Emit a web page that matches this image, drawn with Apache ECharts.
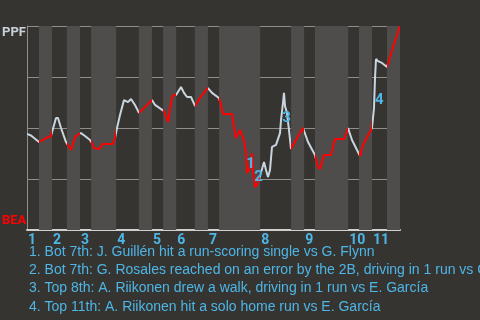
<!DOCTYPE html>
<html><head><meta charset="utf-8">
<script src="https://cdn.jsdelivr.net/npm/echarts@6/dist/echarts.min.js"></script>
<style>html,body{margin:0;padding:0;background:#363431;}#c{width:480px;height:320px;}</style>
</head><body><div id="c"></div>
<script>
// Inning labels and half-inning boundaries (in plate-appearance units)
const innings = ['1','2','3','4','5','6','7','8','9','10','11'];
const topStart = [0, 6.7, 14.2, 23.9, 33.5, 40.0, 48.5, 62.5, 74.3, 86.1, 92.5];
const botStart = [3.2, 10.7, 17.2, 30.0, 36.5, 45.0, 51.5, 70.8, 77.2, 89.0, 96.5];
const gameEnd = 100;
const teamTop = 'PPF';
const teamBottom = 'BEA';
// Win-probability trace (PPF win probability)
const eventX = [0,1.07,3.22,3.5,5.09,6.43,6.7,7.77,8.31,9.12,10.46,10.99,11.8,12.33,12.87,13.94,14.48,15.55,16.89,17.43,17.96,19.3,20.38,23.06,23.59,24.13,24.93,26.01,27.08,27.88,28.95,30.03,30.56,31.64,32.71,33.51,34.32,36.73,37.0,37.8,38.87,39.41,39.95,41.29,42.09,42.9,43.97,45.04,46.38,47.99,48.53,49.6,51.47,51.74,52.55,54.96,55.5,56.03,57.1,58.18,58.71,58.98,59.79,60.32,60.59,61.13,61.66,62.2,62.47,63.54,64.08,64.61,65.15,65.68,66.76,67.83,68.1,68.63,68.9,69.17,69.71,70.24,70.78,72.39,74.0,74.26,75.34,77.21,78.02,78.55,79.62,81.5,82.57,84.99,85.79,86.06,87.13,89.28,90.08,92.49,93.03,93.3,93.57,94.1,95.17,96.51,98.12,100];
const winProb = [0.471,0.463,0.431,0.431,0.451,0.461,0.466,0.549,0.549,0.5,0.431,0.422,0.392,0.392,0.456,0.471,0.475,0.461,0.441,0.426,0.402,0.397,0.422,0.422,0.451,0.5,0.564,0.637,0.627,0.642,0.613,0.574,0.574,0.603,0.623,0.637,0.613,0.583,0.578,0.529,0.652,0.662,0.662,0.701,0.672,0.652,0.652,0.608,0.647,0.686,0.696,0.672,0.647,0.632,0.569,0.569,0.505,0.451,0.49,0.441,0.377,0.279,0.304,0.377,0.294,0.211,0.221,0.245,0.265,0.333,0.294,0.26,0.294,0.407,0.417,0.475,0.539,0.623,0.672,0.608,0.574,0.49,0.397,0.451,0.5,0.5,0.431,0.368,0.309,0.299,0.368,0.368,0.446,0.446,0.48,0.5,0.441,0.363,0.417,0.5,0.598,0.745,0.838,0.828,0.819,0.799,0.897,1.0];
// Key-event markers
const markerLabels = ['1','2','3','4'];
const markerX = [60.05, 62.2, 69.7, 94.6];
const markerY = [0.319, 0.255, 0.544, 0.632];
const notes = [
  '1. Bot 7th: J. Guillén hit a run-scoring single vs G. Flynn',
  '2. Bot 7th: G. Rosales reached on an error by the 2B, driving in 1 run vs G. Flynn',
  '3. Top 8th: A. Riikonen drew a walk, driving in 1 run vs E. García',
  '4. Top 11th: A. Riikonen hit a solo home run vs E. García'
];

const WHITE = '#c9d5de', RED = '#ff0000', BLUE = '#4db6e6';
const FONT = '"Liberation Sans", Arial, sans-serif';
const BFONT = 'Roboto, "Liberation Sans", sans-serif';

const lineData = eventX.map((x, i) => [x, winProb[i]]);
const pieces = [];
const bands = [];
for (let i = 0; i < innings.length; i++) {
  const next = i + 1 < innings.length ? topStart[i + 1] : gameEnd;
  pieces.push({ gte: topStart[i], lt: botStart[i], color: WHITE });
  pieces.push({ gte: botStart[i], lte: next, color: RED });
  bands.push([{ xAxis: botStart[i] }, { xAxis: next }]);
}
const labelMap = {};
topStart.forEach((v, i) => { labelMap[v] = innings[i]; });

const chart = echarts.init(document.getElementById('c'), null, { renderer: 'canvas' });
chart.setOption({
  backgroundColor: '#363431',
  animation: false,
  grid: { left: 27, right: 80, top: 26, bottom: 90, containLabel: false },
  xAxis: {
    type: 'value', min: 0, max: gameEnd,
    axisLine: { show: true, lineStyle: { color: '#cfcfcf', width: 2 } },
    axisTick: { show: false },
    splitLine: { show: false },
    axisLabel: {
      customValues: topStart,
      formatter: v => labelMap[v] || '',
      color: BLUE, fontWeight: 'bold', fontSize: 14, fontFamily: BFONT,
      align: 'left', margin: 3, padding: [0, 0, 0, 1]
    }
  },
  yAxis: {
    type: 'value', min: 0, max: 1, interval: 0.25,
    axisLine: { show: true, lineStyle: { color: '#8f8e8b' } },
    axisTick: { show: false },
    axisLabel: { show: false },
    splitLine: { show: true, lineStyle: { color: '#8f8e8b', width: 1 } }
  },
  visualMap: { show: false, type: 'piecewise', dimension: 0, seriesIndex: 0, pieces: pieces },
  series: [
    {
      type: 'line', data: lineData, showSymbol: false, symbol: 'none',
      lineStyle: { width: 2 }, clip: false, z: 5,
      markArea: { silent: true, itemStyle: { color: '#4f4d4b' }, data: bands, z: 1 }
    },
    {
      type: 'scatter', symbolSize: 1, itemStyle: { color: 'rgba(0,0,0,0)' }, z: 10, silent: true,
      emphasis: { disabled: true },
      data: markerX.map((x, i) => ({ value: [x, markerY[i]], name: markerLabels[i] })),
      label: {
        show: true, position: [0, 0], align: 'center', verticalAlign: 'middle',
        formatter: p => p.name, color: BLUE, opacity: 1,
        fontWeight: 'bold', fontSize: 15, fontFamily: BFONT, textBorderWidth: 0
      }
    }
  ],
  graphic: [
    { type: 'text', left: 2, top: 26, z: 20, style: { text: teamTop, fill: '#c9d1d9', font: 'bold 13px Roboto, sans-serif' } },
    { type: 'text', left: 2, top: 214, z: 20, style: { text: teamBottom, fill: RED, font: 'bold 13px Roboto, sans-serif' } }
  ].concat(notes.map((t, i) => ({
    type: 'text', left: 29, top: 245 + i * 18.3, z: 20,
    style: { text: t, fill: BLUE, fontSize: 14, fontFamily: FONT }
  })))
});
</script>
</body></html>
